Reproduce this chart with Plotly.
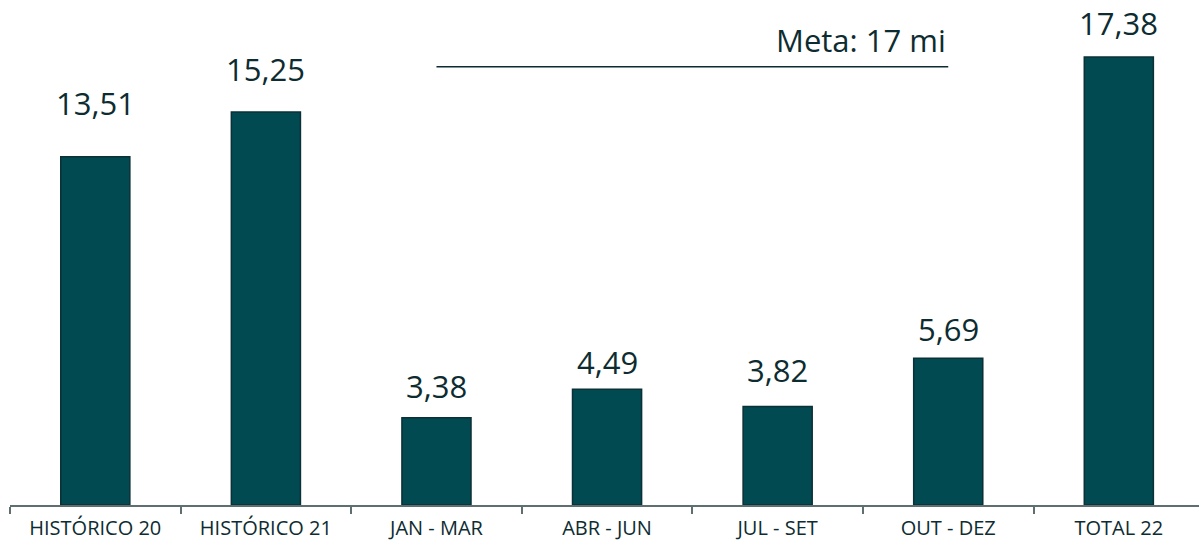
import plotly.graph_objects as go

# Vendas por período (em milhões)
categories = ["HISTÓRICO 20", "HISTÓRICO 21", "JAN - MAR", "ABR - JUN",
              "JUL - SET", "OUT - DEZ", "TOTAL 22"]
values = [13.51, 15.25, 3.38, 4.49, 3.82, 5.69, 17.38]
meta_value = 17
meta_label = "Meta: 17 mi"
meta_start = "JAN - MAR"
meta_end = "OUT - DEZ"

# Distância (px) entre o topo da barra e o centro do rótulo
label_gap = [54, 43, 32, 27, 37, 29, 34]

BAR = "#014a52"
EDGE = "#0b3036"
INK = "#0d2c31"
AXIS = "#5f6e70"
FONT = "Open Sans"


def fmt(v):
    return f"{v:.2f}".replace(".", ",")


fig = go.Figure()
fig.add_trace(go.Bar(
    x=categories, y=values, width=0.405,
    marker=dict(color=BAR, line=dict(color=EDGE, width=1.5)),
    hoverinfo="skip",
))

annotations = []
for cat, v, gap in zip(categories, values, label_gap):
    annotations.append(dict(
        x=cat, y=v, xref="x", yref="y", text=fmt(v), showarrow=False,
        xanchor="center", yanchor="middle", yshift=gap,
        font=dict(family=FONT, size=31, color=INK),
    ))

i0 = categories.index(meta_start)
i1 = categories.index(meta_end)
annotations.append(dict(
    x=i1, y=meta_value, xref="x", yref="y", text=meta_label, showarrow=False,
    xanchor="right", yanchor="middle", yshift=27,
    font=dict(family=FONT, size=31, color=INK),
))

fig.add_shape(type="line", xref="x", yref="y", x0=i0, x1=i1,
              y0=meta_value, y1=meta_value,
              line=dict(color=INK, width=1.5))

fig.update_layout(
    width=1199, height=542,
    margin=dict(l=10, r=0, t=0, b=37, autoexpand=False),
    paper_bgcolor="white", plot_bgcolor="white",
    showlegend=False,
    annotations=annotations,
    font=dict(family=FONT, color=INK),
    xaxis=dict(
        type="category", range=[-0.5, 6.47], automargin=False,
        showline=True, linecolor=AXIS, linewidth=1.5,
        ticks="outside", tickson="boundaries", ticklen=7,
        tickcolor=AXIS, tickwidth=1.5,
        tickfont=dict(family=FONT, size=20, color=INK),
        ticklabelstandoff=4,
        showgrid=False, zeroline=False, fixedrange=True,
    ),
    yaxis=dict(
        range=[0, 19.59], visible=False, showgrid=False,
        zeroline=False, fixedrange=True,
    ),
)

fig.write_html("out.html")
